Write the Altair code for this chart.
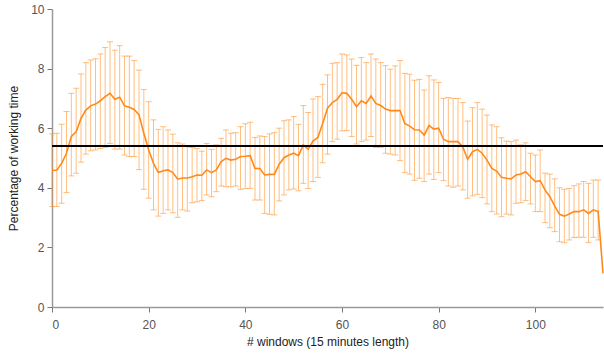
import altair as alt
import pandas as pd

means = [
    4.58, 4.60, 4.82, 5.16, 5.72, 5.88, 6.33, 6.61, 6.75, 6.81,
    6.92, 7.06, 7.17, 6.97, 7.04, 6.75, 6.70, 6.63, 6.45, 5.83,
    5.27, 4.82, 4.51, 4.57, 4.60, 4.51, 4.29, 4.33, 4.33, 4.37,
    4.43, 4.42, 4.60, 4.51, 4.60, 4.88, 4.99, 4.93, 4.96, 5.05,
    5.06, 5.08, 4.65, 4.65, 4.43, 4.45, 4.45, 4.79, 5.01, 5.10,
    5.16, 5.08, 5.44, 5.29, 5.57, 5.69, 6.16, 6.67, 6.86, 6.97,
    7.19, 7.17, 6.97, 6.72, 6.92, 6.83, 7.08, 6.83, 6.76, 6.64,
    6.59, 6.59, 6.59, 6.16, 6.07, 5.95, 5.94, 5.77, 6.09, 5.97,
    6.00, 5.63, 5.55, 5.55, 5.55, 5.36, 4.96, 5.21, 5.29, 5.16,
    4.93, 4.65, 4.56, 4.35, 4.32, 4.30, 4.43, 4.46, 4.54, 4.37,
    4.21, 4.24, 3.93, 3.70, 3.39, 3.11, 3.05, 3.12, 3.20, 3.20,
    3.26, 3.14, 3.26, 3.20, 1.13,
]

uppers = [
    5.81, 5.83, 6.13, 6.56, 7.17, 7.34, 7.82, 8.20, 8.29, 8.33,
    8.49, 8.71, 8.90, 8.62, 8.77, 8.42, 8.42, 8.27, 7.95, 7.30,
    6.89, 6.28, 5.96, 6.05, 5.94, 5.80, 5.51, 5.47, 5.38, 5.35,
    5.32, 5.23, 5.49, 5.29, 5.44, 5.66, 5.94, 5.83, 5.85, 6.05,
    6.15, 6.20, 5.69, 5.74, 5.72, 5.81, 5.85, 6.00, 6.25, 6.28,
    6.39, 6.13, 6.76, 6.53, 6.98, 7.06, 7.47, 7.79, 8.18, 8.20,
    8.49, 8.46, 8.32, 8.11, 8.37, 8.20, 8.49, 8.32, 8.20, 8.10,
    7.98, 8.09, 8.27, 7.84, 7.81, 7.61, 7.64, 7.28, 7.76, 7.62,
    7.53, 7.00, 7.03, 7.00, 7.00, 6.86, 6.24, 6.69, 6.86, 6.64,
    6.44, 6.11, 6.05, 5.68, 5.57, 5.55, 5.60, 5.44, 5.51, 5.16,
    5.10, 5.27, 4.49, 4.46, 4.30, 4.00, 3.95, 3.98, 4.07, 4.13,
    4.21, 4.15, 4.26, 4.26,
]

lowers = [
    3.37, 3.37, 3.48, 3.84, 4.40, 4.49, 4.86, 5.13, 5.24, 5.27,
    5.32, 5.36, 5.49, 5.30, 5.30, 5.10, 5.05, 5.05, 4.61, 3.95,
    3.65, 3.26, 3.05, 3.14, 3.26, 3.16, 3.01, 3.26, 3.22, 3.50,
    3.53, 3.57, 3.76, 3.70, 3.87, 4.06, 4.04, 4.03, 4.06, 3.95,
    3.97, 3.98, 3.59, 3.59, 3.14, 3.11, 3.09, 3.56, 3.76, 3.93,
    3.96, 3.90, 4.15, 3.98, 4.21, 4.35, 4.84, 5.13, 5.55, 5.63,
    5.91, 5.92, 5.72, 5.47, 5.55, 5.60, 5.72, 5.36, 5.36, 5.16,
    5.13, 5.10, 4.91, 4.51, 4.46, 4.25, 4.32, 4.21, 4.46, 4.28,
    4.51, 4.24, 4.06, 4.02, 4.06, 3.93, 3.65, 3.73, 3.78, 3.67,
    3.46, 3.20, 3.12, 3.03, 3.12, 3.09, 3.48, 3.50, 3.57, 3.46,
    3.20, 3.20, 2.83, 2.66, 2.53, 2.19, 2.16, 2.25, 2.33, 2.34,
    2.34, 2.16, 2.34, 2.25,
]

average_level = [5.4]

x_ticks = [0, 20, 40, 60, 80, 100]
y_ticks = [0, 2, 4, 6, 8, 10]

line_df = pd.DataFrame({"i": list(range(len(means))), "mean": means})
err_df = pd.DataFrame({
    "i": list(range(len(uppers))),
    "upper": uppers,
    "lower": lowers,
})
avg_df = pd.DataFrame({"level": average_level})

ORANGE = "#ff8a1c"

xscale = alt.Scale(domain=[0, 114], nice=False, zero=False)
yscale = alt.Scale(domain=[0, 10], nice=False)

xaxis = alt.Axis(values=x_ticks, title="# windows (15 minutes length)")
yaxis = alt.Axis(values=y_ticks, title="Percentage of working time")

bars = alt.Chart(err_df).mark_rule(color=ORANGE, opacity=0.55, strokeWidth=1).encode(
    x=alt.X("i:Q", scale=xscale, axis=xaxis),
    y=alt.Y("lower:Q", scale=yscale, axis=yaxis),
    y2="upper:Q",
)
caps_top = alt.Chart(err_df).mark_tick(
    color=ORANGE, opacity=0.55, orient="horizontal", size=6, thickness=1
).encode(x=alt.X("i:Q", scale=xscale), y=alt.Y("upper:Q", scale=yscale))
caps_bot = alt.Chart(err_df).mark_tick(
    color=ORANGE, opacity=0.55, orient="horizontal", size=6, thickness=1
).encode(x=alt.X("i:Q", scale=xscale), y=alt.Y("lower:Q", scale=yscale))

line = alt.Chart(line_df).mark_line(color=ORANGE, strokeWidth=1.6).encode(
    x=alt.X("i:Q", scale=xscale),
    y=alt.Y("mean:Q", scale=yscale),
)

avg = alt.Chart(avg_df).mark_rule(color="black", strokeWidth=2).encode(
    y=alt.Y("level:Q", scale=yscale),
)

chart = (
    alt.layer(bars, caps_top, caps_bot, line, avg)
    .properties(
        width=551,
        height=298,
        autosize=alt.AutoSizeParams(type="none"),
        padding={"left": 52, "top": 9, "right": 1, "bottom": 46},
    )
    .configure_view(stroke=None)
    .configure_axis(
        grid=False,
        domainColor="#9a9a9a",
        domainWidth=1.5,
        tickColor="#777777",
        tickSize=5,
        labelFont="Liberation Sans",
        labelFontSize=12,
        labelColor="#555555",
        titleFont="Liberation Sans",
        titleFontSize=12,
        titleFontWeight="normal",
        titleColor="#222222",
    )
    .configure_axisY(labelPadding=3, titlePadding=10)
    .configure_axisX(labelPadding=7, titlePadding=6)
)

chart.save("out.html", embed_options={"renderer": "svg", "actions": False})
